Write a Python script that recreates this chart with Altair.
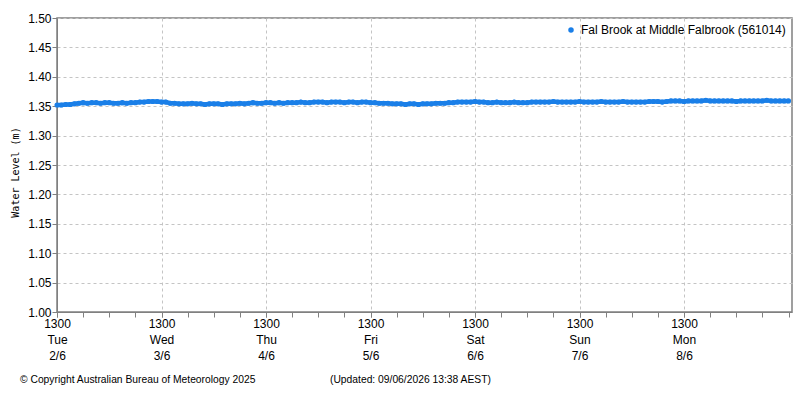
import altair as alt
import pandas as pd

series_name = "Fal Brook at Middle Falbrook (561014)"
copyright_text = "© Copyright Australian Bureau of Meteorology 2025"
updated_text = "(Updated: 09/06/2026 13:38 AEST)"
start_time = "2026-06-02 13:00"

# hourly water level readings (m)
levels = (
    [1.352, 1.352, 1.353, 1.353, 1.354]
    + [1.355, 1.356, 1.355, 1.356, 1.356, 1.355, 1.356, 1.356, 1.355, 1.355, 1.356, 1.355, 1.356]
    + [1.356, 1.357]
    + [1.357, 1.358, 1.358, 1.358, 1.357, 1.357]
    + [1.355, 1.355, 1.354, 1.354, 1.354, 1.355, 1.354, 1.354, 1.353, 1.354, 1.354, 1.354, 1.353, 1.354, 1.354, 1.354, 1.355, 1.354]
    + [1.355, 1.356, 1.355, 1.355, 1.356, 1.356, 1.355, 1.356, 1.355, 1.356, 1.356]
    + [1.356, 1.357, 1.356, 1.356, 1.357, 1.357, 1.357, 1.356, 1.357, 1.357, 1.357, 1.356, 1.357, 1.357, 1.356, 1.357, 1.357, 1.356, 1.356]
    + [1.355, 1.355, 1.355, 1.354]
    + [1.354, 1.354, 1.353, 1.354, 1.354, 1.353, 1.354, 1.354, 1.354]
    + [1.355, 1.355, 1.355, 1.356, 1.356]
    + [1.357, 1.357, 1.357, 1.357, 1.358, 1.357, 1.357]
    + [1.356, 1.356, 1.357, 1.356, 1.356, 1.356, 1.357, 1.356, 1.356, 1.356, 1.357, 1.357]
    + [1.357, 1.357, 1.357, 1.358, 1.357, 1.357, 1.357, 1.357, 1.357, 1.358, 1.357, 1.357,
       1.357, 1.357, 1.358, 1.357, 1.357, 1.357, 1.357, 1.358, 1.357, 1.357, 1.357, 1.357]
    + [1.357, 1.358, 1.358, 1.358, 1.357, 1.358]
    + [1.359, 1.359, 1.359, 1.358, 1.359, 1.359, 1.359, 1.359, 1.360, 1.359, 1.359, 1.359, 1.359, 1.359,
       1.359, 1.358, 1.359, 1.359, 1.359, 1.359, 1.359, 1.359, 1.360, 1.359, 1.359, 1.359, 1.359, 1.359]
)

y_ticks = [1.00, 1.05, 1.10, 1.15, 1.20, 1.25, 1.30, 1.35, 1.40, 1.45, 1.50]
major_days = [2, 3, 4, 5, 6, 7, 8]

times = pd.date_range(start_time, periods=len(levels), freq="h")
df = pd.DataFrame({
    "time": times.strftime("%Y-%m-%dT%H:%M:%S"),
    "level": levels,
    "series": series_name,
})

dom = [alt.DateTime(year=2026, month=6, date=2, hours=13, minutes=0),
       alt.DateTime(year=2026, month=6, date=9, hours=13, minutes=48)]
major_vals = [alt.DateTime(year=2026, month=6, date=d, hours=13) for d in major_days]
minor_vals = []
for d in range(2, 10):
    for h in (1, 7, 13, 19):
        if (d == 2 and h < 13) or (d == 9 and h > 13):
            continue
        minor_vals.append(alt.DateTime(year=2026, month=6, date=d, hours=h))

xscale = alt.Scale(domain=dom)
yscale = alt.Scale(domain=[1.0, 1.5], nice=False, zero=False)
axis_color = "#808080"
grid_color = "#c4c4c4"
blue = "#1a7fe8"

x_main = alt.X("time:T", scale=xscale, axis=alt.Axis(
    orient="bottom", values=major_vals,
    labelExpr="[timeFormat(datum.value, '%H%M'), timeFormat(datum.value, '%a'), timeFormat(datum.value, '%-d/%-m')]",
    grid=True, gridDash=[3, 3], gridColor=grid_color,
    tickSize=5, tickColor=axis_color, domainColor=axis_color,
    labelPadding=1, labelLineHeight=16, labelFontSize=12,
    labelFont="Liberation Sans", labelColor="black", title=None,
    labelFlush=False, labelOverlap=False))

y_axis = alt.Axis(
    values=y_ticks, format=".2f",
    grid=True, gridDash=[3, 3], gridColor=grid_color,
    tickSize=5, tickColor=axis_color, domainColor=axis_color,
    labelPadding=1, labelFontSize=12, labelFont="Liberation Sans", labelColor="black",
    title="Water Level (m)", titleFont="DejaVu Sans Mono", titleFontSize=10,
    titleFontWeight="normal", titleColor="black",
    titleX=-42, titleY=154, titleBaseline="middle", titleAlign="center")

band = alt.Chart(df).mark_line(color=blue, strokeWidth=4.5).encode(
    x=alt.X("time:T", scale=xscale, axis=None),
    y=alt.Y("level:Q", scale=yscale, axis=y_axis),
)

points = alt.Chart(df).mark_point(filled=True, shape="circle", size=26, opacity=1).encode(
    x=x_main,
    y=alt.Y("level:Q", scale=yscale, axis=y_axis),
    color=alt.Color("series:N", scale=alt.Scale(range=[blue]), legend=alt.Legend(
        title=None, orient="top-right", offset=6, padding=0, labelLimit=0,
        labelFont="Liberation Sans", labelFontSize=12, labelColor="black",
        symbolType="circle", symbolSize=30, symbolStrokeWidth=0)),
)

minor = alt.Chart(df).mark_point(opacity=0).encode(
    x=alt.X("time:T", scale=xscale, axis=alt.Axis(
        orient="bottom", values=minor_vals, labels=False, grid=False, domain=False,
        tickSize=5, tickColor=axis_color, title=None)),
)

foot1 = alt.Chart(pd.DataFrame({"t": [copyright_text]})).mark_text(
    align="left", baseline="middle", font="Liberation Sans", fontSize=10.3, color="black"
).encode(text="t:N", x=alt.value(-37), y=alt.value(362))

foot2 = alt.Chart(pd.DataFrame({"t": [updated_text]})).mark_text(
    align="left", baseline="middle", font="Liberation Sans", fontSize=10.3, color="black"
).encode(text="t:N", x=alt.value(273), y=alt.value(362))

chart = alt.layer(band, points, minor, foot1, foot2).resolve_axis(x="independent").properties(
    width=735, height=294,
    padding={"left": 57, "top": 18, "right": 8, "bottom": 88},
    autosize="none",
    background="white",
).configure_view(stroke=axis_color, strokeWidth=1.5)

chart.save("out.html", embed_options={"renderer": "svg", "actions": False})
